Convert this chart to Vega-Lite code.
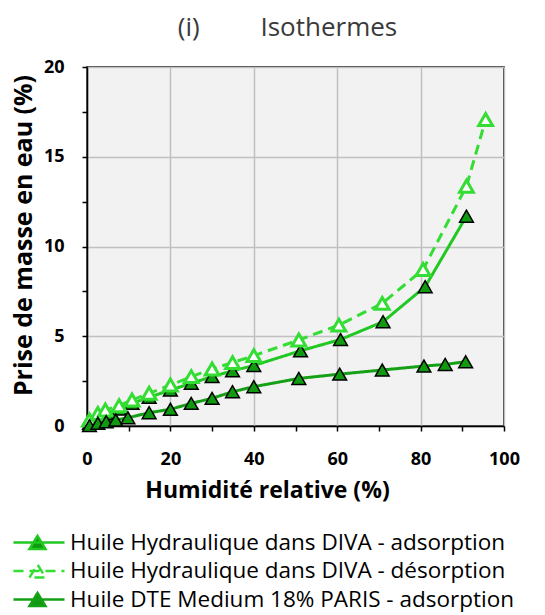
{
  "$schema": "https://vega.github.io/schema/vega-lite/v6.json",
  "width": 417,
  "height": 359,
  "autosize": {"type": "none"},
  "padding": {"left": 87, "top": 67, "right": 41, "bottom": 189},
  "background": "white",
  "config": {
    "font": "Open Sans",
    "view": {"fill": "#f2f2f2", "stroke": "#000000", "strokeWidth": 1.5}
  },
  "title": {
    "text": "(i)\u00a0\u00a0\u00a0\u00a0\u00a0\u00a0\u00a0\u00a0\u00a0Isothermes",
    "font": "Open Sans",
    "fontSize": 26,
    "fontWeight": "normal",
    "color": "#3a3a3a",
    "anchor": "middle",
    "dx": -8,
    "offset": 17
  },
  "data": {
    "values": [
      {"serie": "Huile Hydraulique dans DIVA - adsorption", "rh": 0.6, "w": 0.15},
      {"serie": "Huile Hydraulique dans DIVA - adsorption", "rh": 2.6, "w": 0.45},
      {"serie": "Huile Hydraulique dans DIVA - adsorption", "rh": 4.6, "w": 0.7},
      {"serie": "Huile Hydraulique dans DIVA - adsorption", "rh": 7.7, "w": 0.95},
      {"serie": "Huile Hydraulique dans DIVA - adsorption", "rh": 10.8, "w": 1.26},
      {"serie": "Huile Hydraulique dans DIVA - adsorption", "rh": 14.9, "w": 1.6},
      {"serie": "Huile Hydraulique dans DIVA - adsorption", "rh": 20.0, "w": 2.0},
      {"serie": "Huile Hydraulique dans DIVA - adsorption", "rh": 25.0, "w": 2.38},
      {"serie": "Huile Hydraulique dans DIVA - adsorption", "rh": 30.0, "w": 2.75},
      {"serie": "Huile Hydraulique dans DIVA - adsorption", "rh": 34.9, "w": 3.07},
      {"serie": "Huile Hydraulique dans DIVA - adsorption", "rh": 40.0, "w": 3.37},
      {"serie": "Huile Hydraulique dans DIVA - adsorption", "rh": 51.2, "w": 4.19},
      {"serie": "Huile Hydraulique dans DIVA - adsorption", "rh": 60.8, "w": 4.82},
      {"serie": "Huile Hydraulique dans DIVA - adsorption", "rh": 71.0, "w": 5.81},
      {"serie": "Huile Hydraulique dans DIVA - adsorption", "rh": 81.1, "w": 7.76},
      {"serie": "Huile Hydraulique dans DIVA - adsorption", "rh": 91.0, "w": 11.69},
      {"serie": "Huile Hydraulique dans DIVA - désorption", "rh": 0.6, "w": 0.33},
      {"serie": "Huile Hydraulique dans DIVA - désorption", "rh": 2.6, "w": 0.7},
      {"serie": "Huile Hydraulique dans DIVA - désorption", "rh": 4.4, "w": 0.89},
      {"serie": "Huile Hydraulique dans DIVA - désorption", "rh": 7.7, "w": 1.13},
      {"serie": "Huile Hydraulique dans DIVA - désorption", "rh": 10.8, "w": 1.45},
      {"serie": "Huile Hydraulique dans DIVA - désorption", "rh": 14.9, "w": 1.82},
      {"serie": "Huile Hydraulique dans DIVA - désorption", "rh": 20.0, "w": 2.28},
      {"serie": "Huile Hydraulique dans DIVA - désorption", "rh": 25.0, "w": 2.75},
      {"serie": "Huile Hydraulique dans DIVA - désorption", "rh": 30.0, "w": 3.18},
      {"serie": "Huile Hydraulique dans DIVA - désorption", "rh": 34.9, "w": 3.53},
      {"serie": "Huile Hydraulique dans DIVA - désorption", "rh": 40.0, "w": 3.92},
      {"serie": "Huile Hydraulique dans DIVA - désorption", "rh": 50.8, "w": 4.79},
      {"serie": "Huile Hydraulique dans DIVA - désorption", "rh": 60.4, "w": 5.62},
      {"serie": "Huile Hydraulique dans DIVA - désorption", "rh": 70.8, "w": 6.83},
      {"serie": "Huile Hydraulique dans DIVA - désorption", "rh": 80.6, "w": 8.72},
      {"serie": "Huile Hydraulique dans DIVA - désorption", "rh": 91.0, "w": 13.36},
      {"serie": "Huile Hydraulique dans DIVA - désorption", "rh": 95.6, "w": 17.07},
      {"serie": "Huile DTE Medium 18% PARIS - adsorption", "rh": 0.6, "w": 0.02},
      {"serie": "Huile DTE Medium 18% PARIS - adsorption", "rh": 2.6, "w": 0.15},
      {"serie": "Huile DTE Medium 18% PARIS - adsorption", "rh": 4.6, "w": 0.24},
      {"serie": "Huile DTE Medium 18% PARIS - adsorption", "rh": 6.9, "w": 0.33},
      {"serie": "Huile DTE Medium 18% PARIS - adsorption", "rh": 9.8, "w": 0.46},
      {"serie": "Huile DTE Medium 18% PARIS - adsorption", "rh": 14.9, "w": 0.74},
      {"serie": "Huile DTE Medium 18% PARIS - adsorption", "rh": 20.0, "w": 0.93},
      {"serie": "Huile DTE Medium 18% PARIS - adsorption", "rh": 25.0, "w": 1.26},
      {"serie": "Huile DTE Medium 18% PARIS - adsorption", "rh": 30.0, "w": 1.54},
      {"serie": "Huile DTE Medium 18% PARIS - adsorption", "rh": 34.9, "w": 1.91},
      {"serie": "Huile DTE Medium 18% PARIS - adsorption", "rh": 40.0, "w": 2.19},
      {"serie": "Huile DTE Medium 18% PARIS - adsorption", "rh": 50.8, "w": 2.65},
      {"serie": "Huile DTE Medium 18% PARIS - adsorption", "rh": 60.6, "w": 2.89},
      {"serie": "Huile DTE Medium 18% PARIS - adsorption", "rh": 70.8, "w": 3.12},
      {"serie": "Huile DTE Medium 18% PARIS - adsorption", "rh": 80.8, "w": 3.34},
      {"serie": "Huile DTE Medium 18% PARIS - adsorption", "rh": 85.9, "w": 3.43},
      {"serie": "Huile DTE Medium 18% PARIS - adsorption", "rh": 90.8, "w": 3.58}
    ]
  },
  "encoding": {
    "x": {
      "field": "rh",
      "type": "quantitative",
      "scale": {"domain": [0, 100], "nice": false, "zero": false},
      "axis": {
        "title": "Humidité relative (%)",
        "values": [0, 10, 20, 30, 40, 50, 60, 70, 80, 90, 100],
        "labelExpr": "datum.value % 20 === 0 ? datum.label : ''",
        "grid": true,
        "gridColor": {"condition": {"test": "datum.value % 20 === 0", "value": "#c0c0c0"}, "value": "transparent"},
        "gridWidth": 1.5,
        "domainColor": "#000000",
        "domainWidth": 1.5,
        "tickColor": "#000000",
        "tickWidth": 1.5,
        "tickSize": 5,
        "labelFont": "Open Sans",
        "labelFontSize": 18,
        "labelFontWeight": "bold",
        "labelColor": "#000000",
        "labelPadding": 19,
        "labelFlush": false,
        "titleFont": "Open Sans",
        "titleFontSize": 23,
        "titleFontWeight": "bold",
        "titleColor": "#000000",
        "titlePadding": 11,
        "titleX": 180
      }
    },
    "y": {
      "field": "w",
      "type": "quantitative",
      "scale": {"domain": [0, 20], "nice": false},
      "axis": {
        "title": "Prise de masse en eau (%)",
        "values": [0, 2.5, 5, 7.5, 10, 12.5, 15, 17.5, 20],
        "labelExpr": "datum.value % 5 === 0 ? datum.label : ''",
        "grid": true,
        "gridColor": {"condition": {"test": "datum.value % 5 === 0", "value": "#c0c0c0"}, "value": "transparent"},
        "gridWidth": 1.5,
        "domainColor": "#000000",
        "domainWidth": 1.5,
        "tickColor": "#000000",
        "tickWidth": 1.5,
        "tickSize": 5,
        "labelFont": "Open Sans",
        "labelFontSize": 18,
        "labelFontWeight": "bold",
        "labelColor": "#000000",
        "labelPadding": 18,
        "labelFlush": false,
        "titleFont": "Open Sans",
        "titleFontSize": 25,
        "titleFontWeight": "bold",
        "titleColor": "#000000",
        "titlePadding": 7,
        "titleY": 168
      }
    }
  },
  "layer": [
    {
      "mark": {"type": "line", "strokeWidth": 3},
      "encoding": {
        "stroke": {
          "field": "serie",
          "type": "nominal",
          "scale": {
            "domain": ["Huile Hydraulique dans DIVA - adsorption", "Huile Hydraulique dans DIVA - désorption", "Huile DTE Medium 18% PARIS - adsorption"],
            "range": ["#22c822", "#33dd33", "#15a015"]
          },
          "legend": {
            "orient": "none",
            "legendX": -75,
            "legendY": 462,
            "direction": "vertical",
            "title": null,
            "symbolType": "M-1,0H3.25M0.33,0.55L1,-0.55L1.67,0.55Z",
            "symbolSize": 576,
            "symbolStrokeWidth": 2.5,
            "labelFont": "Open Sans",
            "labelFontSize": 22.5,
            "labelColor": "#000000",
            "labelOffset": 31,
            "labelLimit": 600,
            "rowPadding": 2.5
          }
        },
        "strokeDash": {
          "field": "serie",
          "type": "nominal",
          "scale": {
            "domain": ["Huile Hydraulique dans DIVA - adsorption", "Huile Hydraulique dans DIVA - désorption", "Huile DTE Medium 18% PARIS - adsorption"],
            "range": [[1, 0], [10, 6], [1, 0]]
          }
        }
      }
    },
    {
      "mark": {"type": "point", "shape": "triangle-up", "size": 190, "filled": true, "opacity": 1},
      "encoding": {
        "fill": {
          "field": "serie",
          "type": "nominal",
          "scale": {
            "domain": ["Huile Hydraulique dans DIVA - adsorption", "Huile Hydraulique dans DIVA - désorption", "Huile DTE Medium 18% PARIS - adsorption"],
            "range": ["#119911", "#ffffff", "#119911"]
          }
        },
        "stroke": {
          "condition": {"test": "indexof(datum.serie, 'désorption') >= 0", "value": "#33dd33"},
          "value": "#000000"
        },
        "strokeWidth": {
          "condition": {"test": "indexof(datum.serie, 'désorption') >= 0", "value": 3},
          "value": 1.5
        }
      }
    }
  ]
}
